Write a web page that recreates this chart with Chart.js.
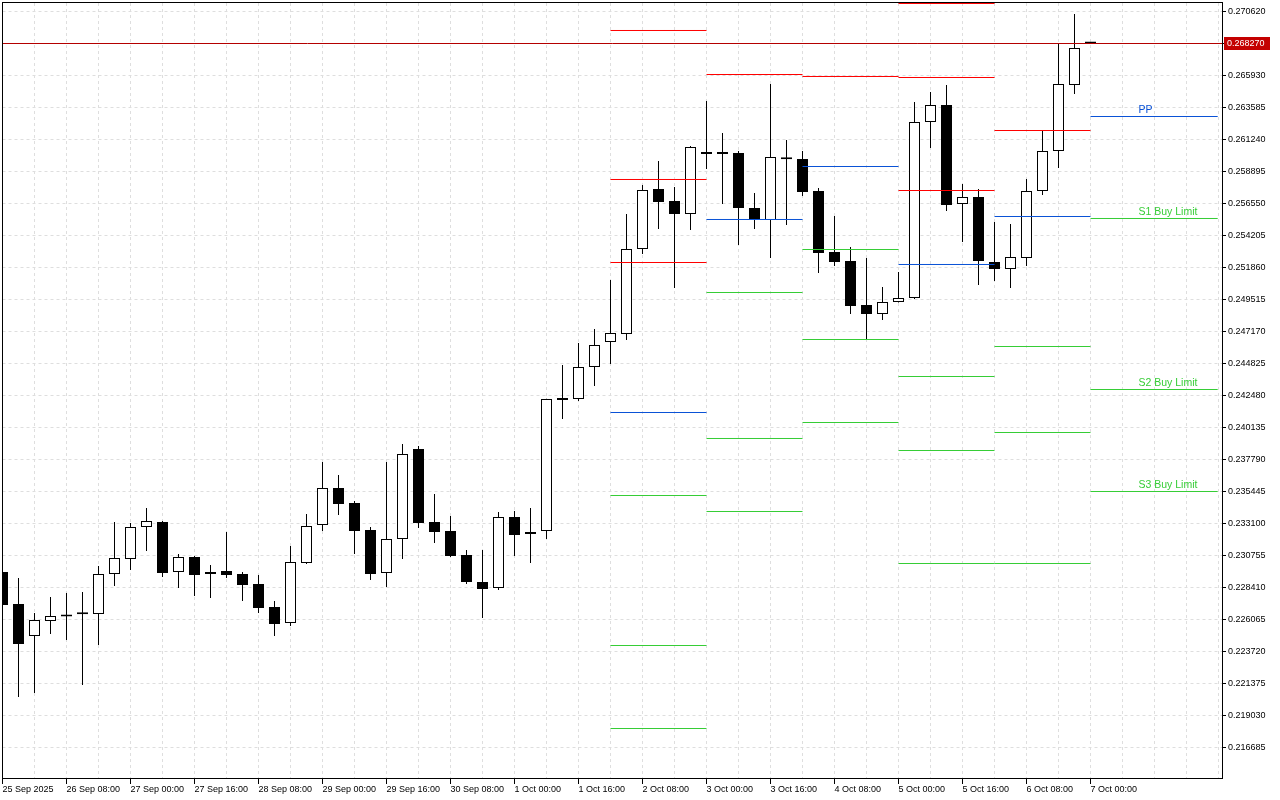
<!DOCTYPE html>
<html>
<head>
<meta charset="utf-8">
<title>H4 chart with pivot levels</title>
<script src="https://cdn.jsdelivr.net/npm/chart.js@4.4.0/dist/chart.umd.min.js"></script>
<style>
  html, body { margin: 0; padding: 0; background: #ffffff; }
</style>
</head>
<body>
<canvas id="myChart" width="1280" height="800"></canvas>
<script>
// H4 bars, index 0 = 25 Sep 16:00, index 68 = 7 Oct 00:00
const opens = [
  0.229546, 0.227201, 0.224856, 0.225955, 0.226285, 0.226450, 0.226468, 0.229399, 0.230498, 0.232843,
  0.233210, 0.229546, 0.230645, 0.229472, 0.229619, 0.229399, 0.228666, 0.226981, 0.225808, 0.230205,
  0.232990, 0.235701, 0.234602, 0.232624, 0.229472, 0.231964, 0.238559, 0.233210, 0.232550, 0.230791,
  0.228813, 0.228373, 0.233576, 0.232330, 0.232550, 0.242160, 0.242223, 0.244569, 0.246401, 0.246987,
  0.253216, 0.257613, 0.256733, 0.255781, 0.260178, 0.260178, 0.260251, 0.256220, 0.255341, 0.259820,
  0.259811, 0.257466, 0.252996, 0.252336, 0.249112, 0.248452, 0.249332, 0.249625, 0.262523, 0.263768,
  0.256513, 0.257026, 0.252263, 0.251750, 0.252556, 0.257466, 0.260397, 0.265234, 0.268350
];
const highs = [
  0.229619, 0.229106, 0.226541, 0.227714, 0.228007, 0.228080, 0.229985, 0.233210, 0.233137, 0.234236,
  0.233283, 0.230865, 0.230718, 0.230059, 0.232477, 0.229546, 0.229326, 0.227421, 0.231451, 0.233796,
  0.237607, 0.236654, 0.234749, 0.232843, 0.237607, 0.238926, 0.238779, 0.235262, 0.233650, 0.231158,
  0.231158, 0.233943, 0.234016, 0.234236, 0.242240, 0.244715, 0.246327, 0.247353, 0.250944, 0.255781,
  0.257906, 0.259665, 0.257759, 0.260764, 0.264062, 0.261716, 0.260397, 0.257320, 0.265307, 0.261204,
  0.260397, 0.257686, 0.255634, 0.253362, 0.252556, 0.250431, 0.251530, 0.263988, 0.264721, 0.265234,
  0.257979, 0.257613, 0.255194, 0.255048, 0.258346, 0.261863, 0.268312, 0.270437, 0.268385
];
const lows = [
  0.227054, 0.220385, 0.220679, 0.225002, 0.224563, 0.221265, 0.224196, 0.228520, 0.229692, 0.231085,
  0.229179, 0.228373, 0.227787, 0.227640, 0.229106, 0.227421, 0.226541, 0.224856, 0.225588, 0.230132,
  0.232550, 0.233723, 0.230865, 0.228959, 0.228446, 0.230498, 0.232770, 0.231671, 0.230650, 0.228666,
  0.226175, 0.228227, 0.230718, 0.230205, 0.231964, 0.240758, 0.242077, 0.243176, 0.244788, 0.246547,
  0.252849, 0.254681, 0.250358, 0.254608, 0.259078, 0.256513, 0.253509, 0.254681, 0.252556, 0.254975,
  0.257100, 0.251457, 0.251970, 0.248452, 0.246620, 0.248013, 0.249300, 0.249552, 0.260617, 0.256000,
  0.253729, 0.250578, 0.250871, 0.250358, 0.251970, 0.257173, 0.259152, 0.264575, 0.268260
];
const closes = [
  0.227127, 0.224269, 0.226028, 0.226321, 0.226431, 0.226450, 0.229399, 0.230572, 0.232843, 0.233283,
  0.229472, 0.230645, 0.229326, 0.229399, 0.229326, 0.228593, 0.226908, 0.225735, 0.230279, 0.232917,
  0.235701, 0.234529, 0.232550, 0.229399, 0.231964, 0.238193, 0.233137, 0.232477, 0.230718, 0.228813,
  0.228300, 0.233576, 0.232257, 0.232477, 0.242223, 0.242150, 0.244569, 0.246181, 0.247060, 0.253216,
  0.257539, 0.256660, 0.255781, 0.260691, 0.260178, 0.260178, 0.256220, 0.255414, 0.259958, 0.259800,
  0.257393, 0.252923, 0.252263, 0.249039, 0.248452, 0.249332, 0.249625, 0.262523, 0.263768, 0.256440,
  0.257026, 0.252336, 0.251750, 0.252630, 0.257466, 0.260397, 0.265307, 0.267945, 0.268270
];

// time axis, one label every 4 bars
const timeLabels = [
  '25 Sep 2025', '26 Sep 08:00', '27 Sep 00:00', '27 Sep 16:00', '28 Sep 08:00', '29 Sep 00:00',
  '29 Sep 16:00', '30 Sep 08:00', '1 Oct 00:00', '1 Oct 16:00', '2 Oct 08:00', '3 Oct 00:00',
  '3 Oct 16:00', '4 Oct 08:00', '5 Oct 00:00', '5 Oct 16:00', '6 Oct 08:00', '7 Oct 00:00'
];
const priceTicks = [
  0.270620, 0.268275, 0.265930, 0.263585, 0.261240, 0.258895, 0.256550, 0.254205,
  0.251860, 0.249515, 0.247170, 0.244825, 0.242480, 0.240135, 0.237790, 0.235445,
  0.233100, 0.230755, 0.228410, 0.226065, 0.223720, 0.221375, 0.219030, 0.216685
];
const currentPrice = 0.268270;

// daily pivot levels (2 Oct .. 7 Oct), null = off the chart
const pivotStart = [38, 44, 50, 56, 62, 68];
const pivotEnd = [44, 50, 56, 62, 68, 75.95];
const r3 = [0.269228, null, null, 0.271207, null, null];
const r2 = [0.258309, null, null, 0.265783, null, null];
const r1 = [0.252226, 0.266003, 0.265857, 0.257502, 0.261899, null];
const pp = [0.241234, 0.255378, 0.259261, 0.252080, 0.255597, 0.262925];
const s1 = [0.235151, 0.250028, 0.253179, 0.243872, 0.246070, 0.255451];
const s2 = [0.224159, 0.239329, 0.246583, 0.238449, 0.239768, 0.242919];
const s3 = [0.218077, 0.233979, 0.240501, 0.230168, 0.230168, 0.235445];
const lastDayLabels = ['PP', 'S1 Buy Limit', 'S2 Buy Limit', 'S3 Buy Limit'];

const RED = '#ff0000';
const BLUE = '#0a52d6';
const GREEN = '#36cd36';
const GRID = '#dedede';
const FONT = 'Liberation Sans';

Chart.defaults.font.family = FONT;

var idx = opens.map((o, i) => i);
var wicks = idx.map(i => ({ x: i, y: [lows[i], highs[i]] }));
var bodies = idx.map(i => ({ x: i, y: [opens[i], closes[i]] }));
var bodyColors = idx.map(i => closes[i] >= opens[i] ? '#ffffff' : '#000000');

var gridIdx = [];
for (let i = 0; i <= 76; i += 2) gridIdx.push(i);

var levels = [
  { values: r3, color: RED }, { values: r2, color: RED }, { values: r1, color: RED },
  { values: pp, color: BLUE },
  { values: s1, color: GREEN }, { values: s2, color: GREEN }, { values: s3, color: GREEN }
];
var pivotSets = [];
levels.forEach(l => {
  l.values.forEach((v, d) => {
    if (v === null) return;
    pivotSets.push({
      type: 'line',
      data: [{ x: pivotStart[d], y: v }, { x: pivotEnd[d], y: v }],
      borderColor: l.color,
      borderWidth: 1,
      pointRadius: 0,
      fill: false,
      order: 0
    });
  });
});

// price line, pivot labels, price box and frame
const overlay = {
  id: 'overlay',
  afterDatasetsDraw(chart) {
    const ctx = chart.ctx;
    const xs = chart.scales.x, ys = chart.scales.y;
    const a = chart.chartArea;
    const py = Math.floor(ys.getPixelForValue(currentPrice)) + 0.5;
    ctx.save();
    ctx.strokeStyle = '#b40000';
    ctx.lineWidth = 1;
    ctx.beginPath();
    ctx.moveTo(a.left, py);
    ctx.lineTo(a.right, py);
    ctx.stroke();

    ctx.font = '10.5px "' + FONT + '"';
    ctx.textBaseline = 'alphabetic';
    ctx.textAlign = 'left';
    var vals = [pp[5], s1[5], s2[5], s3[5]];
    vals.forEach((v, k) => {
      ctx.fillStyle = k === 0 ? BLUE : GREEN;
      ctx.fillText(lastDayLabels[k], xs.getPixelForValue(71), Math.floor(ys.getPixelForValue(v)) - 3);
    });
    ctx.restore();
  },
  afterDraw(chart) {
    const ctx = chart.ctx;
    const ys = chart.scales.y;
    const a = chart.chartArea;
    const py = Math.floor(ys.getPixelForValue(currentPrice));
    ctx.save();
    ctx.fillStyle = '#c40000';
    ctx.fillRect(a.right + 2, py - 6, 46, 13);
    ctx.fillStyle = '#ffffff';
    ctx.font = '9px "' + FONT + '"';
    ctx.textBaseline = 'middle';
    ctx.fillText(currentPrice.toFixed(6), a.right + 5, py + 0.5);

    ctx.strokeStyle = '#000000';
    ctx.lineWidth = 1;
    ctx.strokeRect(2.5, 2.5, a.right - 2, a.bottom - 2);
    ctx.restore();
  }
};

var ctx = document.getElementById('myChart').getContext('2d');
var chart = new Chart(ctx, {
  type: 'bar',
  data: {
    datasets: pivotSets.concat([
      {
        data: bodies,
        backgroundColor: bodyColors,
        borderColor: '#000000',
        borderWidth: 1,
        borderSkipped: false,
        barThickness: 11,
        minBarLength: 2,
        inflateAmount: 0,
        grouped: false,
        clip: 0,
        order: 1
      },
      {
        data: wicks,
        backgroundColor: '#000000',
        borderWidth: 0,
        barThickness: 1,
        inflateAmount: 0,
        grouped: false,
        clip: 0,
        order: 2
      }
    ])
  },
  options: {
    responsive: false,
    animation: false,
    events: [],
    layout: { padding: { left: 2.5, top: 3, right: 0, bottom: 0 } },
    plugins: {
      legend: { display: false },
      tooltip: { enabled: false }
    },
    scales: {
      x: {
        type: 'linear',
        min: 0,
        max: 76.21875,
        offset: false,
        afterBuildTicks: s => { s.ticks = gridIdx.map(v => ({ value: v })); },
        afterFit: s => {
          s.height = 22;
          s.paddingLeft = 0; s.paddingRight = 0; s.paddingTop = 0; s.paddingBottom = 0;
        },
        ticks: {
          autoSkip: false,
          maxRotation: 0,
          minRotation: 0,
          align: 'start',
          padding: 0,
          color: '#000000',
          font: { size: 9 },
          callback: v => (v % 4 === 0 && v / 4 < timeLabels.length) ? timeLabels[v / 4] : ''
        },
        grid: {
          offset: false,
          color: GRID,
          lineWidth: 1,
          tickLength: 6,
          tickBorderDash: [],
          tickColor: c => (c.tick && c.tick.value % 4 === 0 && c.tick.value <= 68) ? '#000000' : 'rgba(0,0,0,0)'
        },
        border: { display: false, dash: [3, 3] }
      },
      y: {
        type: 'linear',
        position: 'right',
        min: 0.21445,
        max: 0.271243,
        beginAtZero: false,
        afterBuildTicks: s => { s.ticks = priceTicks.map(v => ({ value: v })); },
        afterFit: s => {
          s.width = 58;
          s.paddingLeft = 0; s.paddingRight = 0; s.paddingTop = 0; s.paddingBottom = 0;
        },
        ticks: {
          padding: 2,
          color: '#000000',
          font: { size: 9 },
          callback: v => v.toFixed(6)
        },
        grid: {
          color: GRID,
          lineWidth: 1,
          tickLength: 4,
          tickBorderDash: [],
          tickColor: '#000000'
        },
        border: { display: false, dash: [3, 3] }
      }
    }
  },
  plugins: [overlay]
});
</script>
</body>
</html>
